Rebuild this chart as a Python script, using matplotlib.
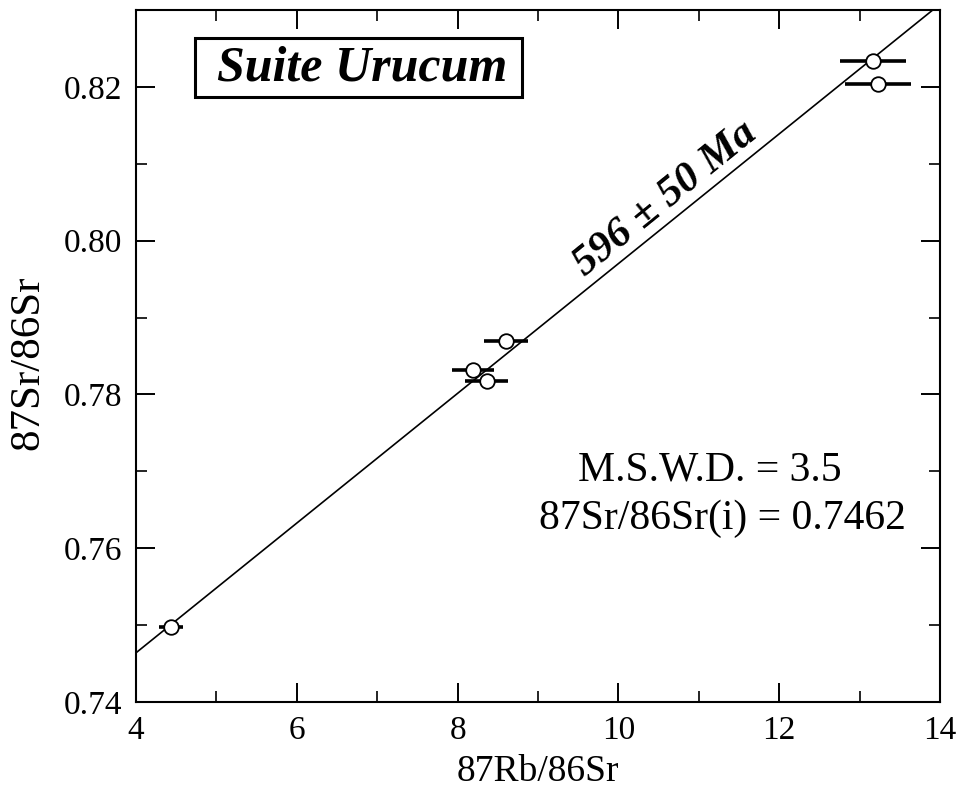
import numpy as np
import matplotlib
matplotlib.use("Agg")
import matplotlib.pyplot as plt
from matplotlib.ticker import MultipleLocator
from matplotlib.patches import Rectangle

plt.rcParams['font.family'] = ['Liberation Serif', 'DejaVu Serif']

# data
rb_sr = [4.44, 8.19, 8.36, 8.60, 13.17, 13.23]
sr_sr = [0.7497, 0.7832, 0.7818, 0.7870, 0.8234, 0.8204]
rb_err = [0.15, 0.26, 0.27, 0.27, 0.41, 0.41]

# isochron line
line_x = [4.0, 13.91]
line_y = [0.7464, 0.8300]

fig = plt.figure(figsize=(9.6, 7.97), dpi=100)
ax = fig.add_axes([0.1417, 0.1192, 0.8375, 0.8683])

ax.plot(line_x, line_y, color='black', lw=1.2, zorder=2)
ax.errorbar(rb_sr, sr_sr, xerr=rb_err, fmt='o', color='black', ecolor='black',
            elinewidth=2.6, capsize=0, markersize=10.5, markerfacecolor='white',
            markeredgecolor='black', markeredgewidth=1.3, zorder=3)

ax.set_xlim(4, 14)
ax.set_ylim(0.74, 0.83)
ax.xaxis.set_major_locator(MultipleLocator(2))
ax.xaxis.set_minor_locator(MultipleLocator(1))
ax.yaxis.set_major_locator(MultipleLocator(0.02))
ax.yaxis.set_minor_locator(MultipleLocator(0.01))
ax.tick_params(which='both', direction='in', top=True, right=True, labelsize=24, pad=10)
ax.tick_params(which='major', length=14, width=1.4)
ax.tick_params(which='minor', length=8, width=1.2)
for s in ax.spines.values():
    s.set_linewidth(1.5)

ax.set_xlabel('87Rb/86Sr', fontsize=27, labelpad=6)
ax.set_ylabel('87Sr/86Sr', fontsize=31)
ax.yaxis.set_label_coords(-0.11, 0.49)

# title box
ax.add_patch(Rectangle((0.0734, 0.874), 0.4066, 0.0855, transform=ax.transAxes,
                       facecolor='white', edgecolor='black', lw=2.2, zorder=4))
ax.text(0.281, 0.916, 'Suite Urucum', transform=ax.transAxes, fontsize=36,
        fontweight='bold', fontstyle='italic', ha='center', va='center', zorder=5)

ax.text(10.58, 0.8054, u'596 \u00b1 50 Ma', fontsize=31, fontweight='bold',
        fontstyle='italic', rotation=39, rotation_mode='anchor', ha='center', va='center')

ax.text(0.714, 0.335, 'M.S.W.D. = 3.5', transform=ax.transAxes, fontsize=30,
        ha='center', va='center')
ax.text(0.729, 0.265, '87Sr/86Sr(i) = 0.7462', transform=ax.transAxes, fontsize=30,
        ha='center', va='center')

fig.savefig('out.png', dpi=100)
